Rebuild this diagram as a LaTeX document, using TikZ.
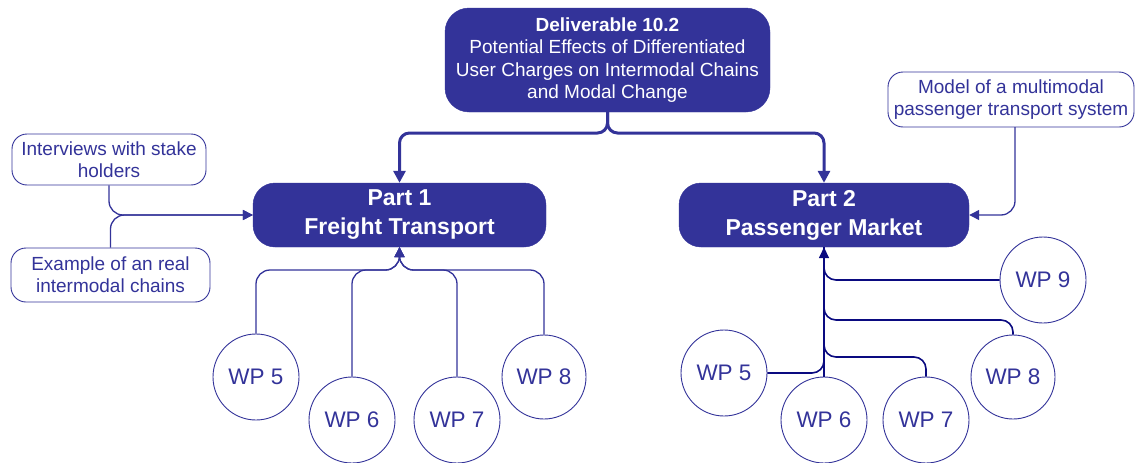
\documentclass[tikz,border=0pt]{standalone}
\usepackage{fontspec}
\setmainfont{Liberation Sans}
\usetikzlibrary{arrows.meta,calc}
\definecolor{deep}{RGB}{51,51,153}
\definecolor{navyline}{RGB}{10,10,128}
\begin{document}
\begin{tikzpicture}[x=1pt,y=-1pt,
  headbox/.style={fill=deep, draw=deep, text=white, rounded corners=24pt,
    align=center, inner sep=0pt},
  partbox/.style={headbox, rounded corners=22pt,
    font=\fontsize{23pt}{29pt}\selectfont\bfseries},
  notebox/.style={draw=deep, line width=0.9pt, rounded corners=15pt, text=deep,
    align=center, inner sep=0pt, font=\fontsize{19pt}{22pt}\selectfont},
  wp/.style={circle, draw=deep, line width=0.9pt, text=deep, inner sep=0pt,
    minimum size=86pt, font=\fontsize{22.5pt}{26pt}\selectfont},
  tip/.style={-{Triangle[length=10pt,width=10pt]}},
  mainlink/.style={draw=deep, line width=3pt, rounded corners=10pt,
    -{Triangle[length=12pt,width=12pt]}},
  sidelink/.style={draw=deep, line width=1.3pt, rounded corners=14pt, tip},
  navylink/.style={draw=navyline, line width=1.6pt, rounded corners=12pt}
]
\useasboundingbox (0,0) rectangle (1135,463);

% headline box
\node[headbox, minimum width=325pt, minimum height=104pt,
  font=\fontsize{19pt}{22.5pt}\selectfont] (top) at (607.5,60)
  {\textbf{Deliverable 10.2}\\Potential Effects of Differentiated\\
   User Charges on Intermodal Chains\\and Modal Change};

% the two parts
\node[partbox, minimum width=293pt, minimum height=64pt] (p1) at (399.5,215)
  {Part 1\\Freight Transport\rule[-4pt]{0pt}{4pt}};
\node[partbox, minimum width=290pt, minimum height=64pt] (p2) at (824,215)
  {Part 2\\Passenger Market\rule[-4pt]{0pt}{4pt}};

% inputs
\node[notebox, minimum width=194pt, minimum height=51pt] (inter) at (109,159.5)
  {Interviews with stake\\holders};
\node[notebox, minimum width=199pt, minimum height=54pt] (example) at (110.5,275)
  {Example of an real\\intermodal chains};
\node[notebox, minimum width=246pt, minimum height=55pt] (model) at (1011,99.5)
  {Model of a multimodal\\passenger transport system};

% work packages, part 1
\node[wp] (a5) at (256,377) {WP 5};
\node[wp] (a6) at (352,420) {WP 6};
\node[wp] (a7) at (457,420) {WP 7};
\node[wp, minimum size=84pt] (a8) at (544,377) {WP 8};

% work packages, part 2
\node[wp] (b5) at (724,373) {WP 5};
\node[wp] (b6) at (824,420) {WP 6};
\node[wp] (b7) at (926,420) {WP 7};
\node[wp, minimum size=84pt] (b8) at (1013,377) {WP 8};
\node[wp] (b9) at (1043,280) {WP 9};

% split from the headline
\coordinate (split) at (607.5,133);
\draw[mainlink] (top.south) |- (split) -| (p1.north);
\draw[mainlink] (top.south) |- (split) -| (p2.north);

% inputs into the parts
\draw[sidelink] (inter.south) |- (p1.west);
\draw[sidelink] (example.north) |- (p1.west);
\coordinate (mdrop) at (1015,127);
\draw[sidelink] (mdrop) |- (p2.east);

% part 1 collector
\coordinate (j1) at (399.5,270);
\draw[sidelink] (a5.north) |- (j1) -- (p1.south);
\draw[sidelink] (a6.north) |- (j1) -- (p1.south);
\draw[sidelink] (a7.north) |- (j1) -- (p1.south);
\draw[sidelink] (a8.north) |- (j1) -- (p1.south);

% part 2 collector
\coordinate (j8) at (824,320);
\coordinate (j7) at (824,357);
\draw[navylink] (b9.west) -| (p2.south);
\draw[navylink] (b8.north) |- (j8) -- (p2.south);
\draw[navylink] (b7.north) |- (j7) -- (p2.south);
\draw[navylink] (b5.east) -| (p2.south);
\draw[navylink, -{Triangle[length=11pt,width=10pt]}] (b6.north) -- (p2.south);
\end{tikzpicture}
\end{document}
